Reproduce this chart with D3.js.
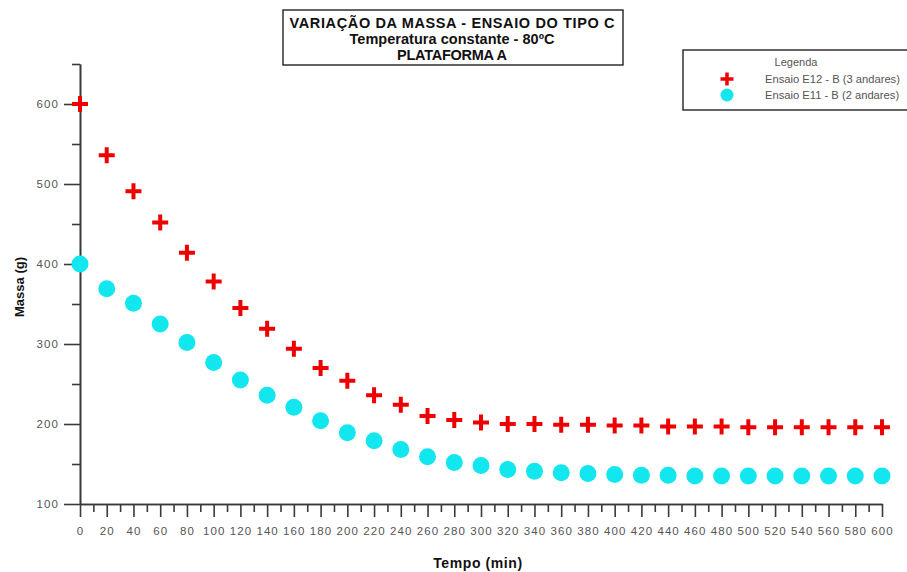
<!DOCTYPE html>
<html>
<head>
<meta charset="utf-8">
<script src="https://cdn.jsdelivr.net/npm/d3@7"></script>
<style>
  html, body { margin: 0; padding: 0; background: #fff; }
  svg { display: block; font-family: Arial, "Liberation Sans", sans-serif; }
</style>
</head>
<body>
<svg id="chart" width="907" height="572"></svg>
<script>
// Tempo (min) of each weighing
const tempo = [0, 20, 40, 60, 80, 100, 120, 140, 160, 180, 200, 220, 240, 260, 280, 300,
               320, 340, 360, 380, 400, 420, 440, 460, 480, 500, 520, 540, 560, 580, 600];
// Ensaio E12 - B (3 andares), massa em g
const massaE12 = [600, 536, 491, 452, 414, 378, 345, 319, 294, 270, 254, 236, 224, 210, 205, 202,
                  200, 200, 199, 199, 198, 198, 197, 197, 197, 196, 196, 196, 196, 196, 196];
// Ensaio E11 - B (2 andares), massa em g
const massaE11 = [400, 369, 351, 325, 302, 277, 255, 236, 221, 204, 189, 179, 168, 159, 152, 148,
                  143, 141, 139, 138, 137, 136, 136, 135, 135, 135, 135, 135, 135, 135, 135];

const xMajorTicks = [0, 20, 40, 60, 80, 100, 120, 140, 160, 180, 200, 220, 240, 260, 280, 300,
                     320, 340, 360, 380, 400, 420, 440, 460, 480, 500, 520, 540, 560, 580, 600];
const xMinorTicks = [10, 30, 50, 70, 90, 110, 130, 150, 170, 190, 210, 230, 250, 270, 290,
                     310, 330, 350, 370, 390, 410, 430, 450, 470, 490, 510, 530, 550, 570, 590];
const yMajorTicks = [100, 200, 300, 400, 500, 600];
const yMinorTicks = [150, 250, 350, 450, 550, 650];

const titleLines = ["VARIAÇÃO DA MASSA - ENSAIO DO TIPO C", "Temperatura constante - 80ºC", "PLATAFORMA A"];
const seriesNames = ["Ensaio E12 - B (3 andares)", "Ensaio E11 - B (2 andares)"];

const RED = "#ee0000", CYAN = "#12e6ee", AXIS = "#3a3a3a", LABEL = "#555";

const svg = d3.select("#chart");

const x = d3.scaleLinear().domain([0, 600]).range([80, 882]);
const y = d3.scaleLinear().domain([100, 650]).range([504, 64]);

// --- axes ---
const styleAxis = g => {
  g.select(".domain").attr("stroke", AXIS).attr("stroke-width", 1.6);
  g.selectAll(".tick line").attr("stroke", AXIS).attr("stroke-width", 1.6);
  g.selectAll(".tick text").attr("fill", LABEL).attr("font-size", 11.5)
    .attr("letter-spacing", 1.1)
    .attr("font-family", "Arial, 'Liberation Sans', sans-serif");
};

svg.append("g").attr("transform", "translate(0,504)")
  .call(d3.axisBottom(x).tickValues(xMinorTicks).tickSize(8).tickSizeOuter(0).tickFormat(""))
  .call(styleAxis);
svg.append("g").attr("transform", "translate(0,504)")
  .call(d3.axisBottom(x).tickValues(xMajorTicks).tickSize(13).tickPadding(10).tickSizeOuter(0))
  .call(styleAxis);

svg.append("g").attr("transform", "translate(80,0)")
  .call(d3.axisLeft(y).tickValues(yMinorTicks).tickSize(8).tickSizeOuter(0).tickFormat(""))
  .call(styleAxis);
svg.append("g").attr("transform", "translate(80,0)")
  .call(d3.axisLeft(y).tickValues(yMajorTicks).tickSize(16).tickPadding(5).tickSizeOuter(0))
  .call(styleAxis);

// axis titles
svg.append("text")
  .attr("x", 478).attr("y", 568).attr("text-anchor", "middle")
  .attr("font-size", 14).attr("font-weight", "bold").attr("fill", "#111")
  .attr("letter-spacing", 0.6)
  .text("Tempo (min)");
svg.append("text")
  .attr("transform", "translate(24,287) rotate(-90)").attr("text-anchor", "middle")
  .attr("font-size", 13).attr("font-weight", "bold").attr("fill", "#111")
  .text("Massa (g)");

// --- markers ---
const crossPath = s => `M${-s},0H${s}M0,${-s}V${s}`;

svg.append("g").selectAll("circle")
  .data(tempo.map((t, i) => [t, massaE11[i]]))
  .join("circle")
  .attr("cx", d => x(d[0])).attr("cy", d => y(d[1]))
  .attr("r", 8.5).attr("fill", CYAN);

svg.append("g").selectAll("path")
  .data(tempo.map((t, i) => [t, massaE12[i]]))
  .join("path")
  .attr("transform", d => `translate(${x(d[0])},${y(d[1])})`)
  .attr("d", crossPath(8))
  .attr("stroke", RED).attr("stroke-width", 4).attr("fill", "none");

// --- title box ---
const titleWidths = [325, 205, 110];
const tb = svg.append("g");
tb.append("rect").attr("x", 283).attr("y", 10).attr("width", 340).attr("height", 55)
  .attr("fill", "#fff").attr("stroke", "#222").attr("stroke-width", 1.4);
tb.selectAll("text").data(titleLines).join("text")
  .attr("x", 452).attr("y", (d, i) => 28 + i * 16)
  .attr("text-anchor", "middle").attr("font-size", 14.5).attr("font-weight", "bold")
  .attr("textLength", (d, i) => titleWidths[i]).attr("lengthAdjust", "spacing")
  .attr("fill", "#111").text(d => d);

// --- legend ---
const lg = svg.append("g");
lg.append("rect").attr("x", 683).attr("y", 50).attr("width", 240).attr("height", 60)
  .attr("fill", "#fff").attr("stroke", "#222").attr("stroke-width", 1.4);
lg.append("text").attr("x", 796).attr("y", 66).attr("text-anchor", "middle")
  .attr("font-size", 11).attr("fill", LABEL).text("Legenda");
lg.append("path").attr("transform", "translate(727,79)").attr("d", crossPath(6.5))
  .attr("stroke", RED).attr("stroke-width", 3.5);
lg.append("circle").attr("cx", 727).attr("cy", 95).attr("r", 6.5).attr("fill", CYAN);
lg.selectAll("text.item").data(seriesNames).join("text").attr("class", "item")
  .attr("x", 765).attr("y", (d, i) => 83 + i * 16)
  .attr("font-size", 11.2).attr("fill", LABEL).text(d => d);
</script>
</body>
</html>
